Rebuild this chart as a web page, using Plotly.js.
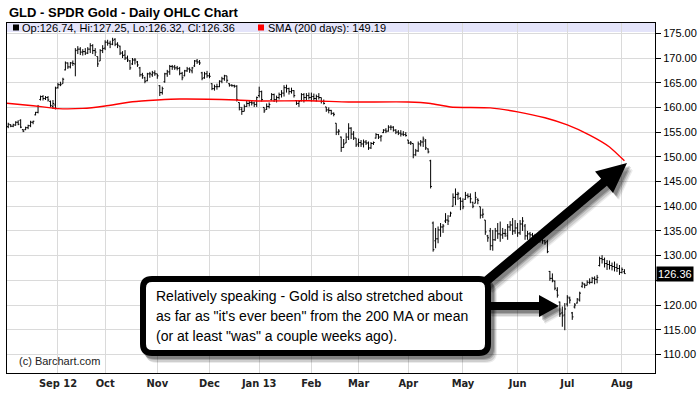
<!DOCTYPE html>
<html>
<head>
<meta charset="utf-8">
<script src="https://cdn.plot.ly/plotly-3.0.1.min.js"></script>
<style>html,body{margin:0;padding:0;background:#fff;}#chart{width:700px;height:399px;}</style>
</head>
<body>
<div id="chart"></div>
<script>
// Trading days per month shown (Aug 2012 .. Aug 2013)
const monthLabels = ['Aug','Sep 12','Oct','Nov','Dec','Jan 13','Feb','Mar','Apr','May','Jun','Jul','Aug'];
const tradingDays = [20,19,21,21,20,21,19,20,22,22,20,22,2];

const openP = [
156.1,156.5,156.2,156.4,157.0,157.4,155.5,155.5,155.9,156.3,157.0,158.5,159.0,161.6,162.2,161.8,162.0,161.2,160.2,160.5,
164.0,164.6,164.8,167.6,169.0,168.2,169.0,168.8,171.6,171.8,171.2,171.3,171.0,171.8,172.5,171.5,170.3,169.4,171.5,
172.0,173.2,173.0,172.8,173.8,172.8,172.4,171.0,170.6,170.0,169.4,168.8,169.6,169.2,168.0,166.6,166.0,165.4,166.8,166.6,167.0,
166.8,164.4,163.0,165.2,166.8,167.2,168.3,168.2,168.0,167.9,166.9,166.4,167.4,167.8,167.4,168.4,169.4,169.2,167.0,166.0,166.8,
166.4,164.8,163.8,164.2,164.2,165.3,165.8,166.4,164.8,164.5,164.4,164.3,161.0,159.6,159.2,160.2,160.8,161.0,160.9,160.6,
162.4,163.2,160.0,159.6,160.2,161.6,162.6,161.6,162.0,162.6,162.9,164.0,163.8,163.2,163.4,161.4,160.8,161.4,162.6,162.0,162.4,
162.0,162.2,161.8,162.2,162.0,161.2,160.1,159.5,159.4,158.8,156.8,155.0,154.0,151.9,152.8,154.0,155.8,154.6,153.8,
152.6,152.9,152.6,153.0,152.8,151.8,152.7,153.8,154.5,154.0,154.9,155.4,155.2,156.0,156.0,155.4,155.0,154.8,154.6,154.5,
153.4,152.8,152.7,150.4,151.2,152.6,153.0,153.2,151.6,149.2,136.6,133.0,133.4,135.2,135.8,137.0,137.2,138.0,140.0,141.8,142.4,141.6,
141.0,141.4,142.2,142.0,140.8,140.6,141.4,139.9,138.2,137.2,134.0,135.0,132.0,133.2,135.0,134.4,134.2,134.5,134.0,135.8,136.2,135.0,
135.6,134.6,136.4,136.0,134.0,134.4,134.2,134.0,133.8,133.6,133.4,133.0,132.8,126.8,125.4,124.8,123.0,120.6,118.4,118.0,
120.2,121.4,118.4,119.6,120.4,121.0,123.8,124.2,124.0,124.6,124.6,125.4,125.2,128.0,129.4,129.2,128.4,128.2,128.0,127.8,127.6,127.4,
126.6,126.74];
const highP = [
156.9,156.6,156.7,157.2,157.4,157.6,155.6,156.1,156.5,157.3,157.3,159.1,160.5,162.4,162.5,162.3,162.3,161.4,161.5,164.2,
165.0,165.2,166.0,169.3,169.1,169.2,169.5,172.0,172.4,172.2,171.8,172.0,172.2,173.0,172.8,172.0,170.3,171.8,172.6,
173.6,173.7,173.5,174.1,174.0,173.2,172.5,171.4,171.6,170.5,169.6,170.0,170.0,169.4,168.2,167.0,166.2,167.0,167.2,167.4,167.5,
166.8,164.5,164.2,167.0,167.6,168.6,168.6,168.6,168.4,168.2,167.2,167.6,168.2,168.1,168.2,169.6,169.8,169.6,167.2,167.2,167.4,
167.0,164.9,164.6,164.8,165.5,166.2,166.6,166.4,164.9,164.7,164.6,164.5,161.0,160.1,160.6,161.5,161.4,161.5,161.2,162.2,
164.2,163.4,160.0,160.8,161.0,162.9,162.8,162.4,163.0,163.5,164.5,164.6,164.0,164.0,163.5,161.5,161.5,162.9,162.9,162.9,163.0,
163.0,162.8,162.6,162.9,162.0,161.6,160.1,160.0,159.5,159.0,156.8,155.6,154.1,153.6,154.8,156.8,156.0,155.2,153.8,
153.7,153.4,153.5,153.4,153.1,153.0,153.1,154.8,154.6,154.4,155.6,155.8,156.4,156.4,156.2,155.6,155.4,155.4,155.2,155.0,
153.4,153.2,152.7,151.6,153.1,153.4,154.1,153.6,151.7,149.4,136.9,135.6,135.9,136.6,136.4,138.6,138.2,138.9,142.6,143.6,142.9,141.8,
141.6,142.9,142.6,142.6,140.9,142.9,141.6,139.9,139.5,137.2,134.2,135.6,135.2,135.6,136.6,136.9,135.6,135.4,136.4,137.0,137.6,137.2,
136.6,137.2,137.8,136.4,135.0,134.8,134.6,134.4,134.2,134.4,133.6,133.2,133.2,126.9,126.4,125.0,123.6,120.7,119.7,120.4,
122.0,121.7,118.6,120.4,121.4,122.7,124.7,124.4,125.0,125.4,125.7,125.8,126.1,129.8,130.1,129.6,129.1,129.0,128.6,128.8,128.4,128.1,
127.6,127.25];
const lowP = [
155.8,156.0,156.0,156.3,156.4,155.8,155.0,155.4,155.6,156.0,156.6,158.4,158.8,161.4,161.4,161.5,161.2,160.1,159.7,159.6,
163.8,164.3,164.8,167.5,167.8,167.9,168.4,166.3,170.8,170.6,170.5,170.6,170.8,171.0,170.8,170.4,168.2,169.4,171.0,
171.6,172.5,172.0,172.6,172.4,172.0,170.6,170.0,169.6,169.2,167.6,168.6,168.7,168.2,166.2,165.8,164.9,165.3,166.0,166.2,166.4,
165.8,162.3,162.6,165.0,166.2,166.6,167.6,167.6,167.5,166.5,165.5,166.3,167.2,167.0,166.9,168.2,168.8,168.6,165.5,165.8,166.0,
165.9,163.5,163.4,163.6,164.1,164.9,165.4,165.0,164.2,164.2,164.0,161.2,159.4,158.5,159.2,160.1,160.2,160.4,160.1,160.1,
162.0,161.2,158.9,159.5,159.8,161.4,161.1,161.0,161.6,162.0,162.2,163.0,162.6,162.8,162.0,160.5,160.1,161.2,161.0,161.3,161.6,
161.2,161.4,161.2,161.6,160.8,160.6,159.1,158.8,158.5,158.2,154.4,154.4,151.0,151.8,152.8,153.4,153.6,153.4,152.0,
152.0,152.0,151.9,152.4,151.4,151.6,152.4,153.7,153.6,153.1,154.8,154.8,155.1,155.4,155.1,154.6,154.4,154.1,154.2,154.1,
152.6,152.4,149.7,150.2,151.0,152.1,152.0,151.4,150.7,143.6,130.8,131.5,132.5,133.8,134.6,136.6,136.2,137.9,139.9,140.2,141.3,139.2,
139.4,141.3,141.6,140.6,139.6,140.6,140.4,137.5,137.6,134.2,132.8,131.1,131.0,133.0,133.4,132.8,133.4,133.8,133.2,135.0,134.2,134.4,
133.8,134.2,135.0,133.2,133.2,133.2,133.4,133.0,132.8,132.6,132.4,132.2,130.5,124.9,124.6,123.0,121.5,117.6,115.6,114.9,
119.7,120.3,117.0,119.3,120.3,120.7,123.5,123.4,124.0,124.2,124.4,124.2,124.4,127.8,128.4,127.6,127.1,127.2,127.0,126.8,126.7,126.1,
126.4,126.32];
const closeP = [
156.6,156.2,156.5,157.0,156.6,156.0,155.2,155.9,156.3,157.0,157.2,159.0,160.2,162.2,161.8,162.0,161.5,160.4,160.8,163.9,
164.6,164.6,165.7,169.0,168.2,169.0,168.9,171.5,171.8,171.2,171.3,171.0,171.8,172.5,171.5,171.2,168.8,171.5,171.9,
173.2,173.0,172.8,173.6,172.8,172.6,171.0,170.5,170.0,169.6,168.0,169.6,169.6,168.6,166.6,166.4,165.3,166.8,166.8,167.0,166.8,
166.4,163.0,163.8,166.8,167.2,168.3,168.2,168.0,167.9,166.9,166.0,167.4,167.8,167.6,168.0,169.4,169.2,169.0,165.9,166.8,166.4,
166.3,163.8,164.2,164.2,165.3,165.8,166.4,165.5,164.5,164.4,164.3,161.6,160.0,159.2,160.2,160.8,161.0,160.9,160.6,162.0,
163.2,161.6,159.3,160.2,160.6,162.6,161.6,162.0,162.6,162.9,164.0,163.8,163.2,163.4,162.4,160.8,161.2,162.6,162.0,162.4,162.0,
162.2,161.8,162.2,162.0,161.2,160.8,159.5,159.4,158.8,158.6,155.0,155.2,151.9,152.6,154.0,155.8,154.6,153.8,152.4,
152.9,152.6,153.0,152.8,151.8,152.7,152.9,154.5,154.0,154.2,155.4,155.2,156.0,156.0,155.4,155.0,154.8,154.6,154.5,154.3,
152.8,152.8,150.4,151.2,152.6,153.0,153.6,151.8,151.0,144.0,131.2,133.4,135.2,135.8,136.0,137.2,137.0,138.6,141.8,142.4,142.5,141.0,
139.9,142.2,142.0,141.5,140.0,141.8,141.2,138.2,138.4,134.8,133.6,132.0,133.2,135.0,134.4,134.2,134.5,134.4,135.8,136.2,135.0,135.6,
134.6,136.4,137.0,134.0,134.4,134.2,134.0,133.8,133.6,133.4,133.0,132.6,130.8,125.4,125.0,123.4,122.0,118.2,117.8,119.2,
121.6,121.0,117.6,120.0,121.2,122.4,124.4,124.0,124.6,124.6,125.4,125.2,125.6,129.4,129.2,128.4,128.2,128.0,127.8,127.6,127.4,126.6,
127.2,126.36];

// 200-day SMA readings (bar index, value)
const smaIdx = [-0.5,10,18,20,30,39,50,60,69,92,101,121,137,161,170,178,194,205,216,225,234,242,248];
const smaVal = [160.85,160.35,159.85,159.75,159.8,160.3,161.15,161.5,161.7,161.5,161.3,161.35,161.1,161.1,160.8,160.1,159.9,159.1,157.9,156.45,154.4,152.0,149.19];

const yTicks = [110,115,120,125,130,135,140,145,150,155,160,165,170,175];
const yTickText = ['110.00','115.00','120.00','','130.00','135.00','140.00','145.00','150.00','155.00','160.00','165.00','170.00','175.00'];

// ---- build ----
const n = closeP.length;
const xs = []; for (let i=0;i<n;i++) xs.push(i);
const tickIdx = []; let acc = 0;
for (let m=0;m<tradingDays.length;m++){ tickIdx.push(acc); acc += tradingDays[m]; }
const xTickVals = tickIdx.slice(1), xTickText = monthLabels.slice(1);

const L=7,R=655,T=23,B=373;
const PX=x=>(x-L)/(R-L), PY=y=>(B-y)/(B-T);
const pt=(x,y)=>PX(x).toFixed(5)+','+PY(y).toFixed(5);
function rrect(x0,y0,x1,y1,r){
  return 'M'+pt(x0+r,y0)+' L'+pt(x1-r,y0)+' Q'+pt(x1,y0)+' '+pt(x1,y0+r)+
   ' L'+pt(x1,y1-r)+' Q'+pt(x1,y1)+' '+pt(x1-r,y1)+' L'+pt(x0+r,y1)+' Q'+pt(x0,y1)+' '+pt(x0,y1-r)+
   ' L'+pt(x0,y0+r)+' Q'+pt(x0,y0)+' '+pt(x0+r,y0)+' Z';
}
function arrow(sx,sy,ex,ey,w,hl,hw,dx,dy){
  sx+=dx; ex+=dx; sy+=dy; ey+=dy;
  const len=Math.hypot(ex-sx,ey-sy), ux=(ex-sx)/len, uy=(ey-sy)/len, nx=-uy, ny=ux;
  const bx=ex-ux*hl, by=ey-uy*hl;
  const p=[[sx+nx*w,sy+ny*w],[bx+nx*w,by+ny*w],[bx+nx*hw,by+ny*hw],[ex,ey],[bx-nx*hw,by-ny*hw],[bx-nx*w,by-ny*w],[sx-nx*w,sy-ny*w]];
  return 'M'+p.map(q=>pt(q[0],q[1])).join(' L')+' Z';
}
const shapes = [];
// legend band
shapes.push({type:'rect',xref:'paper',yref:'paper',x0:0,x1:1,y0:PY(32),y1:1,fillcolor:'#e4e4fa',line:{width:0},layer:'below'});
shapes.push({type:'rect',xref:'paper',yref:'paper',x0:PX(13),x1:PX(19),y0:PY(30.5),y1:PY(24.5),fillcolor:'#000',line:{width:0}});
shapes.push({type:'rect',xref:'paper',yref:'paper',x0:PX(258),x1:PX(264),y0:PY(30.5),y1:PY(24.5),fillcolor:'#ff0000',line:{width:0}});
// shadows
const shadowSteps=[[6,7,0.08],[5,6,0.12],[4,4,0.18],[3,3,0.22]];
shadowSteps.forEach(s=>{
  shapes.push({type:'path',xref:'paper',yref:'paper',path:rrect(140+s[0],276+s[1],491+s[0],356+s[1],11),fillcolor:'rgba(0,0,0,'+s[2]+')',line:{width:0}});
  shapes.push({type:'path',xref:'paper',yref:'paper',path:arrow(484,283,627,163,4.5,30,14,s[0],s[1]),fillcolor:'rgba(0,0,0,'+s[2]+')',line:{width:0}});
  shapes.push({type:'path',xref:'paper',yref:'paper',path:arrow(486,306,559,306,4,20,11,s[0],s[1]),fillcolor:'rgba(0,0,0,'+s[2]+')',line:{width:0}});
});
// box
shapes.push({type:'path',xref:'paper',yref:'paper',path:rrect(143,279,488,353,9),fillcolor:'#ffffff',line:{color:'#000',width:6}});
// arrows
shapes.push({type:'path',xref:'paper',yref:'paper',path:arrow(484,283,627,163,4.5,30,14,0,0),fillcolor:'#000',line:{width:0}});
shapes.push({type:'path',xref:'paper',yref:'paper',path:arrow(486,306,559,306,4,20,11,0,0),fillcolor:'#000',line:{width:0}});

const txtFont = {family:'Liberation Sans, Arial, sans-serif', size:14, color:'#000'};
const annotations = [
  {xref:'paper',yref:'paper',x:PX(7),y:PY(12.5),xanchor:'left',yanchor:'middle',showarrow:false,
   text:'<b>GLD - SPDR Gold - Daily OHLC Chart</b>',font:{family:'Liberation Sans, Arial, sans-serif',size:13,color:'#000'}},
  {xref:'paper',yref:'paper',x:PX(20),y:PY(27.5),xanchor:'left',yanchor:'middle',showarrow:false,
   text:'Op:126.74, Hi:127.25, Lo:126.32, Cl:126.36',font:{family:'Liberation Sans, Arial, sans-serif',size:11,color:'#000'}},
  {xref:'paper',yref:'paper',x:PX(266),y:PY(27.5),xanchor:'left',yanchor:'middle',showarrow:false,
   text:'SMA (200 days): 149.19',font:{family:'Liberation Sans, Arial, sans-serif',size:11,color:'#000'}},
  {xref:'paper',yref:'paper',x:PX(17),y:PY(361),xanchor:'left',yanchor:'middle',showarrow:false,
   text:'(c) Barchart.com',font:{family:'Liberation Sans Narrow, Arial Narrow, Liberation Sans, sans-serif',size:11,color:'#222'}},
  {xref:'paper',yref:'y',x:1,y:closeP[n-1],xanchor:'left',yanchor:'middle',showarrow:false,xshift:1,
   text:closeP[n-1].toFixed(2),bgcolor:'#000',borderpad:1,font:{family:'Liberation Sans, Arial, sans-serif',size:11,color:'#fff'}},
  {xref:'paper',yref:'paper',x:PX(154),y:PY(296),xanchor:'left',yanchor:'middle',showarrow:false,
   text:'Relatively speaking - Gold is also stretched about',font:txtFont},
  {xref:'paper',yref:'paper',x:PX(154),y:PY(316),xanchor:'left',yanchor:'middle',showarrow:false,
   text:'as far as "it\'s ever been" from the 200 MA or mean',font:txtFont},
  {xref:'paper',yref:'paper',x:PX(154),y:PY(336),xanchor:'left',yanchor:'middle',showarrow:false,
   text:'(or at least "was" a couple weeks ago).',font:txtFont}
];

const data = [
  {type:'ohlc',x:xs,open:openP,high:highP,low:lowP,close:closeP,
   increasing:{line:{color:'#000',width:1}},decreasing:{line:{color:'#000',width:1}},
   tickwidth:0.5,hoverinfo:'skip',showlegend:false},
  {type:'scatter',mode:'lines',x:smaIdx,y:smaVal,line:{color:'#ff0000',width:1.4,shape:'spline',smoothing:0.5},
   hoverinfo:'skip',showlegend:false}
];

const layout = {
  width:700,height:399,
  margin:{l:L,r:700-R,t:T,b:399-B,pad:0},
  paper_bgcolor:'#fff',plot_bgcolor:'#fff',showlegend:false,
  xaxis:{range:[-0.5,260.3],tickvals:xTickVals,ticktext:xTickText,showgrid:true,gridcolor:'#dadada',gridwidth:1,
    zeroline:false,showline:true,linecolor:'#000',linewidth:1,mirror:true,ticks:'',
    rangeslider:{visible:false},fixedrange:true,
    tickfont:{family:'Liberation Sans Narrow, Arial Narrow, DejaVu Sans Condensed, sans-serif',size:11,color:'#222',weight:'bold'}},
  yaxis:{range:[106.24,177.09],side:'right',tickvals:yTicks,ticktext:yTickText,showgrid:true,gridcolor:'#dadada',gridwidth:1,
    zeroline:false,showline:true,linecolor:'#000',linewidth:1,mirror:true,ticks:'outside',ticklen:5,tickcolor:'#000',
    fixedrange:true,tickfont:{family:'Liberation Sans, Arial, sans-serif',size:11,color:'#000'}},
  shapes:shapes,annotations:annotations
};
Plotly.newPlot('chart',data,layout,{displayModeBar:false,staticPlot:true});
</script>
</body>
</html>
